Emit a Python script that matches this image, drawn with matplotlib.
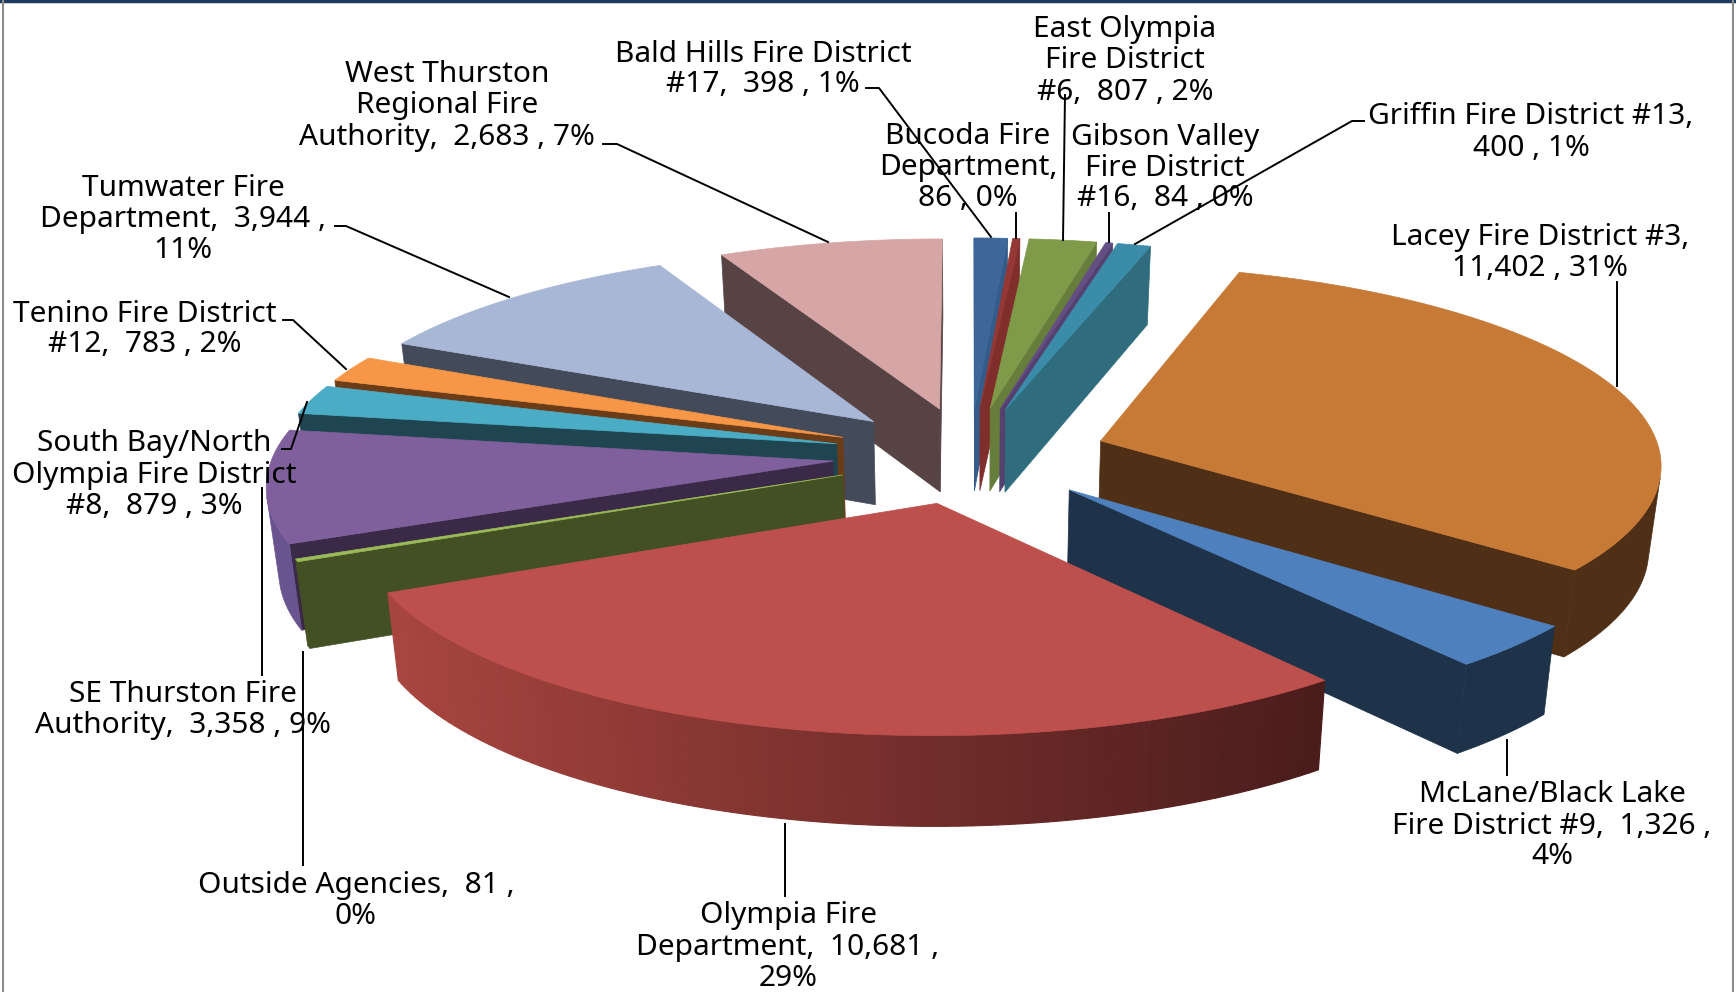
import numpy as np
import matplotlib
matplotlib.use('Agg')
import matplotlib.pyplot as plt
from matplotlib.colors import to_rgb
from matplotlib.patches import Polygon

names = ['Bald Hills', 'Bucoda', 'East Olympia', 'Gibson Valley', 'Griffin', 'Lacey', 'McLane',
         'Olympia', 'Outside', 'SE Thurston', 'South Bay', 'Tenino', 'Tumwater', 'West Thurston']
values = [398, 86, 807, 84, 400, 11402, 1326, 10681, 81, 3358, 879, 783, 3944, 2683]

top_colors = ['#3C6798', '#953735', '#7F9A48', '#644F85', '#3B8CA8', '#C77A36', '#4E80BD',
              '#BD4F4C', '#9BBB59', '#7F609C', '#4BACC6', '#F79646', '#A8B7D6', '#D6A6A6']
side_colors = ['#335C8A', '#7F2E2C', '#677D3B', '#54416F', '#2F6C7E', '#4F2F16', '#1E3249',
               '#4A1C1C', '#435024', '#3A2A47', '#1E4550', '#6A3C18', '#434B5B', '#574343']
wall_left = dict(zip(names, side_colors))
wall_left['Olympia'] = '#A8453F'
wall_left['SE Thurston'] = '#6A5490'
wall_right = dict(zip(names, side_colors))
wall_right['SE Thurston'] = '#6A5490'

label_text = [
    ['Bald Hills Fire District', '#17,  398 , 1%'],
    ['Bucoda Fire', 'Department,', '86 , 0%'],
    ['East Olympia', 'Fire District', '#6,  807 , 2%'],
    ['Gibson Valley', 'Fire District', '#16,  84 , 0%'],
    ['Griffin Fire District #13,', '400 , 1%'],
    ['Lacey Fire District #3,', '11,402 , 31%'],
    ['McLane/Black Lake', 'Fire District #9,  1,326 ,', '4%'],
    ['Olympia Fire', 'Department,  10,681 ,', '29%'],
    ['Outside Agencies,  81 ,', '0%'],
    ['SE Thurston Fire', 'Authority,  3,358 , 9%'],
    ['South Bay/North', 'Olympia Fire District', '#8,  879 , 3%'],
    ['Tenino Fire District', '#12,  783 , 2%'],
    ['Tumwater Fire', 'Department,  3,944 ,', '11%'],
    ['West Thurston', 'Regional Fire', 'Authority,  2,683 , 7%'],
]
label_x = [763, 968, 1125, 1165, 1531, 1540, 1552, 788, 356, 183, 154, 145, 183, 447]
label_y = [54, 137, 30, 137, 117, 238, 795, 916, 886, 694, 444, 314, 189, 75]

leaders = [
    [(866, 88), (879, 88), (991, 237)],
    [(1016, 213), (1016, 238)],
    [(1065, 95), (1063, 240)],
    [(1109, 213), (1109, 242)],
    [(1364, 121), (1352, 121), (1135, 244)],
    [(1617, 282), (1617, 386)],
    [(1507, 740), (1507, 775)],
    [(785, 824), (785, 896)],
    [(303, 652), (303, 865)],
    [(262, 488), (262, 675)],
    [(282, 449), (291, 449), (307, 402)],
    [(283, 320), (293, 320), (346, 369)],
    [(335, 226), (346, 226), (509, 297)],
    [(603, 144), (617, 144), (828, 242)],
]

CX, CY = 970, 455
RX, RY = 560, 197
PERSP = 0.105
THICK = 84
THICK_PERSP = 0.06
BOTTOM_SHRINK = 0.982
EXPLODE = 0.246
FONT_SIZE = 21.5
LINE_PX = 31


def project(x, y, bottom=False):
    w = 1 + PERSP * y
    sx = RX * x / w
    sy = -RY * y / w
    if bottom:
        return CX + sx * BOTTOM_SHRINK, CY + sy + THICK / (1 + THICK_PERSP * y)
    return CX + sx, CY + sy


def signed_area(pts):
    a = 0
    for i in range(len(pts)):
        x1, y1 = pts[i]
        x2, y2 = pts[(i + 1) % len(pts)]
        a += x1 * y2 - x2 * y1
    return a


def mix(c1, c2, t):
    a, b = np.array(to_rgb(c1)), np.array(to_rgb(c2))
    return tuple(a + (b - a) * t)


def draw_slice(ax, name, start, end, top, side):
    # angles run clockwise from 12 o'clock
    mid = np.pi / 2 - (start + end) / 2
    ox, oy = EXPLODE * np.cos(mid), EXPLODE * np.sin(mid)
    n = max(3, int((end - start) / 0.02))
    ang = np.pi / 2 - np.linspace(start, end, n)
    xs = ox + np.cos(ang)
    ys = oy + np.sin(ang)
    arc_top = [project(x, y) for x, y in zip(xs, ys)]
    arc_bot = [project(x, y, True) for x, y in zip(xs, ys)]
    apex_top = project(ox, oy)
    apex_bot = project(ox, oy, True)

    q = [apex_top, arc_top[0], arc_bot[0], apex_bot]
    if signed_area(q) < 0:
        ax.add_patch(Polygon(q, fc=side, ec=side, lw=0.5))
    q = [apex_top, arc_top[-1], arc_bot[-1], apex_bot]
    if signed_area(q) > 0:
        ax.add_patch(Polygon(q, fc=side, ec=side, lw=0.5))

    seen = []
    for i in range(n - 1):
        q = [arc_top[i], arc_top[i + 1], arc_bot[i + 1], arc_bot[i]]
        if signed_area(q) < 0:
            seen.append(i)
    if seen and wall_left[name] == wall_right[name]:
        # one colour, so one polygon with no seams
        a, b = seen[0], seen[-1] + 2
        q = arc_top[a:b] + arc_bot[a:b][::-1]
        ax.add_patch(Polygon(q, fc=wall_left[name], ec=wall_left[name], lw=0.5))
    else:
        for i in seen:
            q = [arc_top[i], arc_top[i + 1], arc_bot[i + 1], arc_bot[i]]
            # wall shading goes dark towards the right side of the chart
            t = (arc_top[i][0] - 395) / (1325 - 395)
            c = mix(wall_left[name], wall_right[name], min(max(t, 0), 1))
            ax.add_patch(Polygon(q, fc=c, ec=c, lw=0.8))

    ax.add_patch(Polygon([apex_top] + arc_top, fc=top, ec=top, lw=0.5))


fig = plt.figure(figsize=(17.36, 9.92), dpi=100)
ax = fig.add_axes([0, 0, 1, 1])
ax.set_xlim(0, 1736)
ax.set_ylim(992, 0)
ax.axis('off')

fracs = np.array(values) / sum(values)
edges = np.concatenate([[0], np.cumsum(fracs)]) * 2 * np.pi
mids = (edges[:-1] + edges[1:]) / 2

# back slices first so the front ones paint over them
for i in np.argsort(-np.cos(mids)):
    draw_slice(ax, names[i], edges[i], edges[i + 1], top_colors[i], side_colors[i])

for line in leaders:
    ax.plot([p[0] for p in line], [p[1] for p in line], color='black', lw=1.4)

for lines, x, y in zip(label_text, label_x, label_y):
    for j, s in enumerate(lines):
        ax.text(x, y + j * LINE_PX, s, ha='center', va='center', fontsize=FONT_SIZE,
                family='Noto Sans', color='black')

# window frame
ax.plot([0, 1736], [1, 1], color='#1F3A5F', lw=2.5)
ax.plot([3, 3], [0, 992], color='#8C8C8C', lw=1.5)
ax.plot([1733, 1733], [0, 992], color='#8C8C8C', lw=1.5)

fig.savefig('out.png', dpi=100)
